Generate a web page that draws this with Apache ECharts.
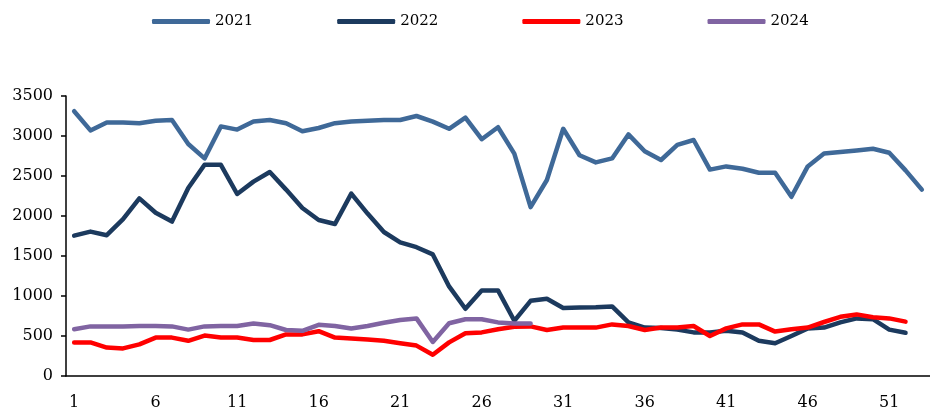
<!DOCTYPE html>
<html>
<head>
<meta charset="utf-8">
<script src="https://cdn.jsdelivr.net/npm/echarts@6/dist/echarts.min.js"></script>
<style>
  html, body { margin: 0; padding: 0; background: #fff; }
  #chart { width: 930px; height: 411px; }
</style>
</head>
<body>
<div id="chart"></div>
<script>
// 周次
const weeks = ['1', '2', '3', '4', '5', '6', '7', '8', '9', '10', '11', '12', '13', '14', '15', '16', '17', '18',
  '19', '20', '21', '22', '23', '24', '25', '26', '27', '28', '29', '30', '31', '32', '33', '34', '35', '36',
  '37', '38', '39', '40', '41', '42', '43', '44', '45', '46', '47', '48', '49', '50', '51', '52', '53']

const data2021 = [3310, 3070, 3170, 3170, 3160, 3190, 3200, 2900, 2720, 3120, 3080, 3180, 3200, 3160, 3060, 3100,
  3160, 3180, 3190, 3200, 3200, 3250, 3180, 3090, 3230, 2960, 3110, 2780, 2110, 2450, 3090, 2760, 2670, 2720,
  3020, 2810, 2700, 2890, 2950, 2580, 2620, 2590, 2540, 2540, 2240, 2620, 2780, 2800, 2820, 2840, 2790, 2570, 2330]
const data2022 = [1755, 1805, 1760, 1960, 2220, 2040, 1930, 2350, 2640, 2640, 2275, 2430, 2550, 2330, 2100, 1950,
  1900, 2280, 2030, 1800, 1670, 1610, 1520, 1120, 840, 1070, 1070, 690, 940, 965, 850, 855, 860, 870,
  670, 605, 600, 580, 545, 545, 565, 545, 440, 410, 500, 595, 605, 670, 720, 710, 580, 540]
const data2023 = [420, 420, 355, 345, 395, 480, 480, 440, 505, 480, 480, 450, 450, 520, 520, 560, 480, 470, 455,
  440, 410, 380, 265, 420, 535, 545, 585, 615, 620, 575, 605, 605, 605, 645, 625, 575, 605, 605, 625, 500,
  595, 645, 645, 555, 585, 605, 675, 740, 770, 735, 720, 680]
const data2024 = [585, 620, 620, 620, 625, 625, 620, 580, 620, 625, 625, 655, 635, 575, 565, 640, 625, 595, 625,
  665, 700, 720, 425, 660, 710, 710, 670, 655, 655]

const yMin = 0
const yMax = 3500
const yStep = 500

const chart = echarts.init(document.getElementById('chart'))
const font = '"DejaVu Serif", "Liberation Serif", serif'

const makeLine = (name, data, color) => ({
  name,
  type: 'line',
  data,
  symbol: 'none',
  smooth: false,
  lineStyle: { color, width: 4.5, cap: 'round', join: 'round' },
  itemStyle: { color },
})

const options = {
  animation: false,
  backgroundColor: '#fff',
  legend: {
    left: 147,
    top: 9,
    itemWidth: 58,
    itemHeight: 5,
    itemGap: 84,
    icon: 'roundRect',
    textStyle: { fontFamily: font, fontSize: 15, color: '#000' },
    data: ['2021', '2022', '2023', '2024'],
  },
  grid: {
    left: 66,
    right: -7,
    top: 96,
    bottom: 34,
    containLabel: false,
  },
  xAxis: {
    type: 'category',
    data: weeks,
    boundaryGap: true,
    axisLine: { lineStyle: { color: '#000', width: 1.5 } },
    axisTick: { inside: true, length: 6, interval: 4, lineStyle: { color: '#000', width: 1.5 } },
    axisLabel: { interval: 4, margin: 19, fontFamily: font, fontSize: 16, color: '#000' },
    splitLine: { show: false },
  },
  yAxis: {
    type: 'value',
    min: yMin,
    max: yMax,
    interval: yStep,
    axisLine: { show: true, lineStyle: { color: '#000', width: 1.5 } },
    axisTick: { show: true, inside: false, length: 5, lineStyle: { color: '#000', width: 1.5 } },
    axisLabel: { margin: 13, fontFamily: font, fontSize: 16, color: '#000', formatter: (v) => String(v) },
    splitLine: { show: false },
  },
  series: [
    makeLine('2021', data2021, '#3f6998'),
    makeLine('2022', data2022, '#1c3a5e'),
    makeLine('2023', data2023, '#ff0000'),
    makeLine('2024', data2024, '#8064a2'),
  ],
}

chart.setOption(options, true)
</script>
</body>
</html>
